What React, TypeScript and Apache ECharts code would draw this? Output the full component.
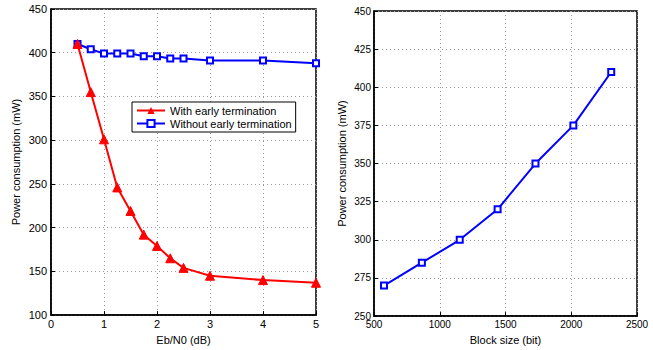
import { useEffect, useRef } from "react";
import * as echarts from "echarts";

const ebn0 = [0.5, 0.75, 1, 1.25, 1.5, 1.75, 2, 2.25, 2.5, 3, 4, 5];
const withET = [410, 355, 301, 246, 219, 192, 179, 165, 154, 145, 140, 137];
const withoutET = [410, 404, 399, 399, 399, 396, 396, 393.5, 393.5, 391, 391, 388];
const blockSize = [576, 864, 1152, 1440, 1728, 2016, 2304];
const blockPower = [270, 285, 300, 320, 350, 375, 410];

const FONT = "'Liberation Sans', Arial, Helvetica, sans-serif";

function axisCommon(fontSize: number, margin: number) {
  return {
    axisLine: { show: true, onZero: false, lineStyle: { color: "#000", width: 1.5 } },
    axisTick: { show: true, inside: true, length: 4, lineStyle: { color: "#000", width: 1 } },
    axisLabel: { color: "#000", fontSize, fontFamily: FONT, margin, formatter: (v: number) => String(v) },
    splitLine: { show: true, lineStyle: { color: "#9a9a9a", type: [1, 3], width: 1 } },
    nameTextStyle: { color: "#000", fontSize: 11, fontFamily: FONT },
  };
}

export default function App() {
  const ref = useRef<HTMLDivElement>(null);
  useEffect(() => {
    if (!ref.current) return;
    const chart = echarts.init(ref.current, undefined, { renderer: "svg" });
    chart.setOption({
      animation: false,
      backgroundColor: "#fff",
      textStyle: { fontFamily: FONT },
      grid: [
        { left: 51, top: 9, width: 265, height: 310, show: true, borderColor: "#000", borderWidth: 1.5, backgroundColor: "transparent" },
        { left: 374, top: 11, width: 263, height: 308, show: true, borderColor: "#000", borderWidth: 1.5, backgroundColor: "transparent" },
      ],
      xAxis: [
        {
          type: "value", gridIndex: 0, min: 0, max: 5, interval: 1,
          name: "Eb/N0 (dB)", nameLocation: "middle", nameGap: 15,
          ...axisCommon(11, 3),
        },
        {
          type: "value", gridIndex: 1, min: 500, max: 2500, interval: 500,
          name: "Block size (bit)", nameLocation: "middle", nameGap: 15,
          ...axisCommon(10, 3),
        },
      ],
      yAxis: [
        {
          type: "value", gridIndex: 0, min: 100, max: 450, interval: 50,
          name: "Power consumption (mW)", nameLocation: "middle", nameGap: 30,
          ...axisCommon(11, 4),
        },
        {
          type: "value", gridIndex: 1, min: 250, max: 450, interval: 25,
          name: "Power consumption (mW)", nameLocation: "middle", nameGap: 27,
          ...axisCommon(10, 3),
        },
      ],
      legend: {
        show: true,
        data: ["With early termination", "Without early termination"],
        orient: "vertical",
        left: 132,
        top: 102,
        padding: [3, 4, 3, 4],
        itemGap: 2,
        itemWidth: 28,
        itemHeight: 9,
        backgroundColor: "#fff",
        borderColor: "#000",
        borderWidth: 1,
        borderRadius: 0,
        textStyle: { color: "#000", fontSize: 11, fontFamily: FONT },
      },
      series: [
        {
          name: "With early termination",
          type: "line",
          xAxisIndex: 0, yAxisIndex: 0,
          data: ebn0.map((x, i) => [x, withET[i]]),
          symbol: "triangle",
          symbolSize: 9,
          lineStyle: { color: "#ff0000", width: 2 },
          itemStyle: { color: "#ff0000", borderColor: "#ff0000" },
          z: 3,
        },
        {
          name: "Without early termination",
          type: "line",
          xAxisIndex: 0, yAxisIndex: 0,
          data: ebn0.map((x, i) => [x, withoutET[i]]),
          symbol: "emptyRect",
          symbolSize: 6,
          lineStyle: { color: "#0000ff", width: 2 },
          itemStyle: { color: "#0000ff", borderColor: "#0000ff", borderWidth: 1.5 },
          z: 2,
        },
        {
          name: "Block",
          type: "line",
          xAxisIndex: 1, yAxisIndex: 1,
          data: blockSize.map((x, i) => [x, blockPower[i]]),
          symbol: "emptyRect",
          symbolSize: 6,
          lineStyle: { color: "#0000ff", width: 2 },
          itemStyle: { color: "#0000ff", borderColor: "#0000ff", borderWidth: 1.5 },
        },
      ],
    });
    return () => chart.dispose();
  }, []);
  return (
    <div
      ref={ref}
      style={{ position: "fixed", left: 0, top: 0, width: 653, height: 350, background: "#fff" }}
    />
  );
}
